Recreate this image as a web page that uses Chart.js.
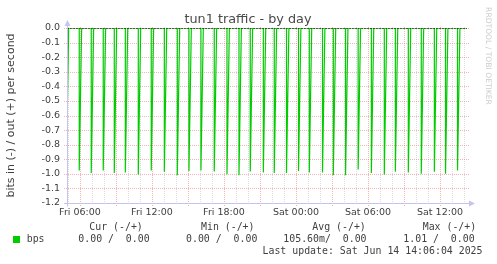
<!DOCTYPE html>
<html><head><meta charset="utf-8">
<script src="https://cdn.jsdelivr.net/npm/chart.js@4"></script>
<style>html,body{margin:0;padding:0;background:#fff}#c{display:block}</style>
</head><body>
<div style="width:497px;height:264px;position:relative"><canvas id="c" width="497" height="264"></canvas></div>
<script>
// ---- data (hours since Fri 00:00) ----
const chartTitle = 'tun1 traffic - by day';
const yAxisTitle = 'bits in (-) / out (+) per second';
const watermark = 'RRDTOOL / TOBI OETIKER';
const spikeHours = [4.86, 5.94, 6.94, 7.94, 8.86, 9.78, 10.86, 11.94, 13.03, 14.11, 15.08, 16.08, 17.19, 18.25, 19.25, 20.19, 21.28, 22.19, 23.21, 24.21, 25.11, 26.21, 27.11, 28.13, 29.18, 30.28, 31.36, 32.28, 33.36, 34.44, 35.53, 36.46, 37.46];
const spikeValues = [1.00, 0.977, 0.995, 0.977, 0.995, 0.991, 1.005, 0.977, 0.986, 1.009, 0.981, 0.977, 0.984, 1.002, 1.009, 0.984, 0.991, 0.995, 0.995, 0.981, 0.991, 0.991, 1.009, 1.009, 0.970, 0.995, 1.005, 0.986, 0.991, 1.0, 0.986, 1.0, 0.977];
const spikeRiseHours = 0.2;
const xTickHours = [6, 12, 18, 24, 30, 36];
const xTickLabels = ['Fri 06:00', 'Fri 12:00', 'Fri 18:00', 'Sat 00:00', 'Sat 06:00', 'Sat 12:00'];
const xRange = [4.92, 38.25];
const yRange = [-1.2, 0];
const yStep = 0.1;
const legendName = 'bps';
const legendHeaders = ['Cur (-/+)', 'Min (-/+)', 'Avg (-/+)', 'Max (-/+)'];
const legendValues = ['0.00 /  0.00', '0.00 /  0.00', '105.60m/  0.00', '1.01 /  0.00'];
const lastUpdate = 'Last update: Sat Jun 14 14:06:04 2025';

// ---- build series ----
const inSeries = [{x: xRange[0] - 1, y: 0}];
spikeHours.forEach((t, i) => {
  inSeries.push({x: t, y: 0}, {x: t, y: -spikeValues[i]}, {x: t + spikeRiseHours, y: 0});
});
inSeries.push({x: xRange[1] + 1, y: 0});
const outSeries = [{x: xRange[0], y: 0}, {x: xRange[1], y: 0}];

const GREEN = '#00CC00';
const TXT = '#404040';
const AXIS = '#c4c4ee';

const rrdPlugin = {
  id: 'rrd',
  beforeDatasetsDraw(chart) {
    const {ctx, chartArea: a, scales: {x, y}} = chart;
    ctx.save();
    ctx.lineWidth = 1;
    ctx.setLineDash([1, 1]);
    for (let h = Math.ceil(xRange[0]); h <= Math.floor(xRange[1]); h++) {
      const px = Math.round(x.getPixelForValue(h)) + 0.5;
      ctx.strokeStyle = (h % 3 === 0) ? 'rgba(232,120,120,0.55)' : 'rgba(180,180,180,0.45)';
      ctx.beginPath(); ctx.moveTo(px, a.top - 1); ctx.lineTo(px, a.bottom + ((h % 3 === 0) ? 3 : 0)); ctx.stroke();
    }
    y.ticks.forEach(t => {
      if (t.value <= yRange[0] + 1e-9) return;
      const py = Math.round(y.getPixelForValue(t.value)) + 0.5;
      ctx.strokeStyle = 'rgba(232,120,120,0.55)';
      ctx.beginPath(); ctx.moveTo(a.left - 3, py); ctx.lineTo(a.right + 2, py); ctx.stroke();
    });
    ctx.restore();
  },
  afterDatasetsDraw(chart) {
    const {ctx, chartArea: a} = chart;
    ctx.save();
    ctx.strokeStyle = AXIS; ctx.fillStyle = AXIS; ctx.lineWidth = 1;
    const lx = Math.round(a.left) + 0.5, by = Math.round(a.bottom) + 0.5;
    ctx.beginPath(); ctx.moveTo(lx, by + 3); ctx.lineTo(lx, a.top - 4); ctx.stroke();
    ctx.beginPath(); ctx.moveTo(a.left - 3, by); ctx.lineTo(a.right + 4, by); ctx.stroke();
    ctx.beginPath(); ctx.moveTo(lx - 3, a.top - 2); ctx.lineTo(lx + 3, a.top - 2); ctx.lineTo(lx, a.top - 8); ctx.closePath(); ctx.fill();
    ctx.beginPath(); ctx.moveTo(a.right + 2, by - 3); ctx.lineTo(a.right + 2, by + 3); ctx.lineTo(a.right + 8, by); ctx.closePath(); ctx.fill();
    ctx.restore();
  },
  afterDraw(chart) {
    const {ctx, chartArea: a} = chart;
    ctx.save();
    ctx.fillStyle = '#4a4a4a';
    ctx.font = '12.8px "DejaVu Sans"';
    ctx.textAlign = 'center'; ctx.textBaseline = 'middle';
    ctx.fillText(chartTitle, 248, 19.5);
    ctx.save();
    ctx.translate(11, (a.top + a.bottom) / 2);
    ctx.rotate(-Math.PI / 2);
    ctx.font = '11px "DejaVu Sans"';
    ctx.fillStyle = TXT;
    ctx.fillText(yAxisTitle, 0, 0);
    ctx.restore();
    ctx.save();
    ctx.translate(488, 56);
    ctx.rotate(Math.PI / 2);
    ctx.font = '7.6px "DejaVu Sans"';
    ctx.fillStyle = '#cccccc';
    ctx.fillText(watermark, 0, 0);
    ctx.restore();
    ctx.fillStyle = GREEN;
    ctx.fillRect(13, 236, 7, 7);
    ctx.font = '9.9px "DejaVu Sans Mono"';
    ctx.fillStyle = TXT;
    ctx.textAlign = 'left';
    ctx.fillText(legendName, 26.7, 239.7);
    const hx = [89.3, 201, 312.3, 422.7];
    const vx = [78.3, 186, 283.3, 403.3];
    legendHeaders.forEach((h, i) => ctx.fillText(h, hx[i], 227.3));
    legendValues.forEach((v, i) => ctx.fillText(v, vx[i], 239.7));
    ctx.textAlign = 'right';
    ctx.fillText(lastUpdate, 482.5, 251.7);
    ctx.restore();
  }
};

new Chart(document.getElementById('c'), {
  type: 'line',
  data: {
    datasets: [
      {label: 'in', data: inSeries, borderColor: GREEN, borderWidth: 1.2, pointRadius: 0, tension: 0, fill: false, order: 2},
      {label: 'out', data: outSeries, borderColor: '#000000', borderWidth: 1, borderDash: [2, 1], pointRadius: 0, tension: 0, fill: false, order: 1}
    ]
  },
  options: {
    responsive: false,
    animation: false,
    devicePixelRatio: 1,
    layout: {padding: {left: 0, right: 30, top: 28, bottom: 0}},
    plugins: {legend: {display: false}, tooltip: {enabled: false}, title: {display: false}},
    scales: {
      x: {
        type: 'linear', min: xRange[0], max: xRange[1],
        grid: {display: false, drawTicks: false}, border: {display: false},
        afterFit(s) { s.height = 61; },
        afterBuildTicks(s) { s.ticks = xTickHours.map(v => ({value: v})); },
        ticks: {
          autoSkip: false, maxRotation: 0, padding: 4, color: TXT,
          font: {family: 'DejaVu Sans', size: 9.5},
          callback: (v) => { const i = xTickHours.indexOf(v); return i >= 0 ? xTickLabels[i] : ''; }
        }
      },
      y: {
        type: 'linear', min: yRange[0], max: yRange[1],
        grid: {display: false, drawTicks: false}, border: {display: false},
        afterFit(s) { s.width = 67; },
        ticks: {
          stepSize: yStep, padding: 7, color: TXT,
          font: {family: 'DejaVu Sans', size: 9.5},
          callback: (v) => { const r = Math.round(v * 10) / 10; return (r === 0 ? 0 : r).toFixed(1); }
        }
      }
    }
  },
  plugins: [rrdPlugin]
});
</script>
</body></html>
